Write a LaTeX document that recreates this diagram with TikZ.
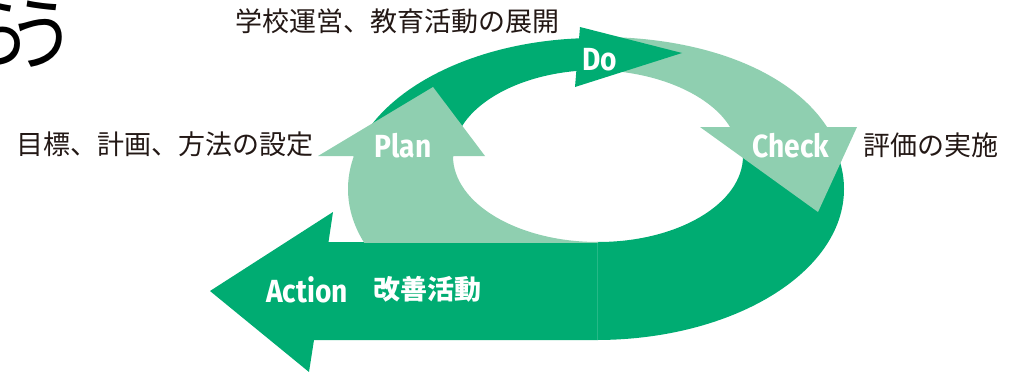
\documentclass[tikz,border=0pt]{standalone}
\usepackage{fontspec}
\usepackage{graphicx}
\newfontfamily\cjk{Noto Sans CJK JP}
\newfontfamily\lat{Fira Sans}
\definecolor{dgreen}{RGB}{0,172,114}
\definecolor{lgreen}{RGB}{143,207,176}
\definecolor{ink}{RGB}{35,24,21}
\tikzset{
  jp/.style={font=\cjk\fontsize{27}{27}\selectfont, text=ink, inner sep=0pt},
  jpw/.style={font=\cjk\bfseries\fontsize{27}{27}\selectfont, text=white, inner sep=0pt},
  lab/.style={font=\lat\bfseries\fontsize{32}{32}\selectfont, text=white, inner sep=0pt, anchor=base},
  big/.style={font=\cjk\fontsize{80}{80}\selectfont, text=black, inner sep=0pt},
  ring/.style={even odd rule}
}
\newcommand{\ringpath}{(596,189) ellipse [x radius=248pt, y radius=151pt] (598,156) ellipse [x radius=145pt, y radius=86pt]}
\begin{document}
\begin{tikzpicture}[x=1pt,y=-1pt]
\useasboundingbox (0,0) rectangle (1012,372);
% Action (dark): right part of ring + bar + head
\begin{scope}
  \clip (597,140) rectangle (1012,372);
  \fill[dgreen,ring] \ringpath;
\end{scope}
\fill[dgreen] (210,291) -- (333,212) -- (328.5,242) -- (598,242) -- (598,340) -- (314,340) -- (309,372) -- cycle;
\draw[dgreen!85!white, line width=0.6pt] (597.5,242) -- (597.5,340);
% Check (light)
\fill[lgreen] (590,37) .. controls (700,35) and (790,70) .. (827,127) -- (857,127) -- (818,212) -- (700,127) -- (730,127) .. controls (712,97) and (660,70) .. (590,70) -- cycle;
% Do (dark)
\begin{scope}
  \clip (300,0) rectangle (590,156);
  \fill[dgreen,ring] \ringpath;
\end{scope}
\fill[dgreen] (580,27) -- (682,53) -- (575,87) -- cycle;
% Plan (light)
\begin{scope}
  \clip (300,155) rectangle (598,242);
  \fill[lgreen,ring] \ringpath;
\end{scope}
\fill[lgreen] (318,156) -- (433,87) -- (485,156) -- cycle;
% labels
\node[lab] (do) at (600,70) {\scalebox{0.88}[1]{Do}};
\node[lab] (plan) at (403,157) {\scalebox{0.88}[1]{Plan}};
\node[lab] (check) at (791,157) {\scalebox{0.88}[1]{Check}};
\node[lab] (action) at (307,302) {\scalebox{0.88}[1]{Action}};
\node[jpw] (kaizen) at (427,289) {改善活動};
\node[jp] (dotext) at (397,21) {学校運営、教育活動の展開};
\node[jp] (plantext) at (165,144) {目標、計画、方法の設定};
\node[jp] (checktext) at (931,145) {評価の実施};
\node[big] (t1) at (-3,34) {\scalebox{0.85}[1]{ら}};
\node[big] (t2) at (42,34) {\scalebox{0.85}[1]{う}};
\end{tikzpicture}
\end{document}
